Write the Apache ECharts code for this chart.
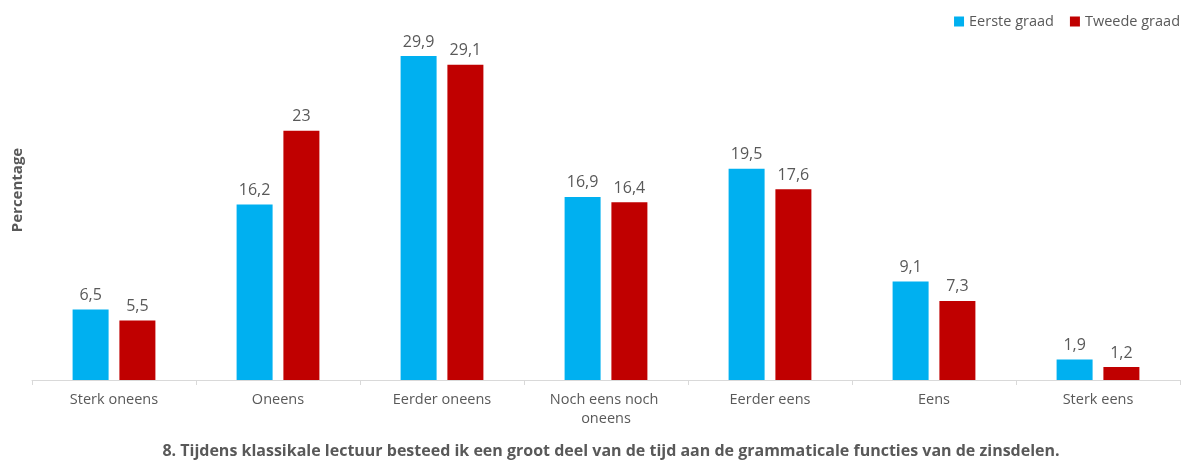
<!DOCTYPE html>
<html>
<head>
<meta charset="utf-8">
<script src="https://cdn.jsdelivr.net/npm/echarts@6/dist/echarts.min.js"></script>
<style>
  html, body { margin: 0; padding: 0; background: #ffffff; }
  #chart { width: 1188px; height: 462px; }
</style>
</head>
<body>
<div id="chart"></div>
<script>
// Answer categories on the Likert scale
const categories = ['Sterk oneens', 'Oneens', 'Eerder oneens', 'Noch eens noch oneens', 'Eerder eens', 'Eens', 'Sterk eens'];
// Percentages per grade
const eersteGraad = [6.5, 16.2, 29.9, 16.9, 19.5, 9.1, 1.9];
const tweedeGraad = [5.5, 23, 29.1, 16.4, 17.6, 7.3, 1.2];
const seriesNames = ['Eerste graad', 'Tweede graad'];
const yAxisTitle = 'Percentage';
const chartTitle = '8. Tijdens klassikale lectuur besteed ik een groot deel van de tijd aan de grammaticale functies van de zinsdelen.';

const FONT = '"Open Sans", "Noto Sans", sans-serif';
const GRAY = '#595959';

const fmt = v => String(v).replace('.', ',');

const chart = echarts.init(document.getElementById('chart'), null, { renderer: 'canvas' });

chart.setOption({
  animation: false,
  textStyle: { fontFamily: FONT },
  grid: { left: 32, right: 8, top: 55, bottom: 82, containLabel: false },
  title: {
    text: chartTitle,
    left: 606,
    top: 438,
    textAlign: 'center',
    textStyle: { fontFamily: FONT, fontSize: 16, fontWeight: 'bold', color: GRAY }
  },
  legend: {
    right: 3,
    top: 9,
    itemWidth: 10,
    itemHeight: 10,
    itemGap: 16,
    icon: 'rect',
    textStyle: { fontFamily: FONT, fontSize: 14.5, color: GRAY },
    data: seriesNames
  },
  graphic: [{
    type: 'text',
    x: 10,
    y: 190,
    rotation: Math.PI / 2,
    style: {
      text: yAxisTitle,
      font: 'bold 15px ' + FONT,
      fill: GRAY,
      textAlign: 'center',
      textVerticalAlign: 'top'
    }
  }],
  xAxis: {
    type: 'category',
    data: categories,
    axisLine: { lineStyle: { color: '#d9d9d9', width: 1 } },
    axisTick: { show: true, length: 5, lineStyle: { color: '#d9d9d9' } },
    axisLabel: {
      color: GRAY,
      fontSize: 14.5,
      fontFamily: FONT,
      margin: 10,
      lineHeight: 19,
      width: 140,
      overflow: 'break',
      interval: 0
    }
  },
  yAxis: {
    type: 'value',
    min: 0,
    max: 30,
    show: false,
    splitLine: { show: false }
  },
  series: [
    {
      name: seriesNames[0],
      type: 'bar',
      data: eersteGraad,
      barWidth: 36,
      barGap: '30%',
      itemStyle: { color: '#00b0f0' },
      label: { show: true, position: 'top', distance: 6, color: GRAY, fontSize: 16, fontFamily: FONT, formatter: p => fmt(p.value) }
    },
    {
      name: seriesNames[1],
      type: 'bar',
      data: tweedeGraad,
      barWidth: 36,
      itemStyle: { color: '#c00000' },
      label: { show: true, position: 'top', distance: 6, color: GRAY, fontSize: 16, fontFamily: FONT, formatter: p => fmt(p.value) }
    }
  ]
});
</script>
</body>
</html>
